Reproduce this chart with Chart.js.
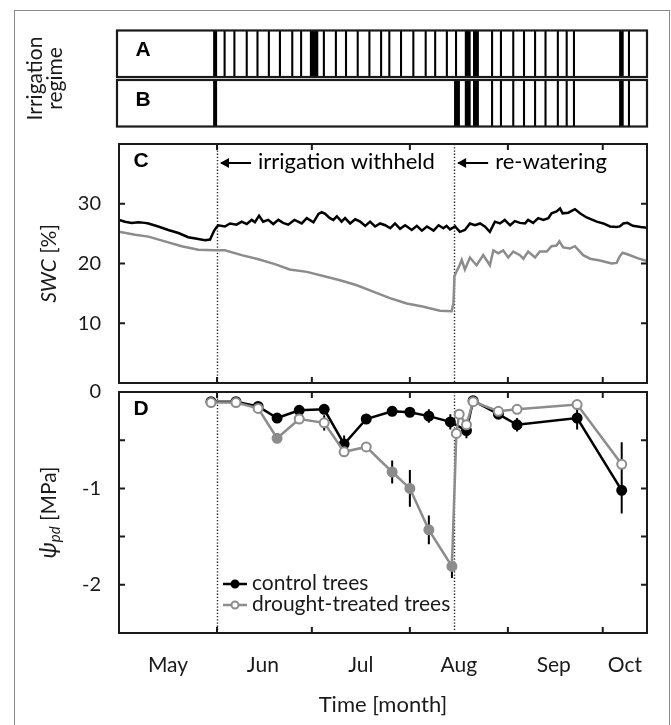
<!DOCTYPE html>
<html>
<head>
<meta charset="utf-8">
<script src="https://cdn.jsdelivr.net/npm/chart.js@4.4.1/dist/chart.umd.min.js"></script>
<style>
  html, body { margin: 0; padding: 0; background: #fff; }
  #fig { position: relative; width: 671px; height: 725px; overflow: hidden; background: #fff; }
  #frame { position: absolute; left: 14px; top: 10px; width: 656px; height: 740px; border: 1.5px solid #8a8a8a; box-sizing: border-box; }
  canvas { position: absolute; left: 0; }
</style>
</head>
<body>
<div id="fig">
  <div id="frame"></div>
  <canvas id="chartAB" width="671" height="136" style="top:0px"></canvas>
  <canvas id="chartC" width="671" height="265" style="top:130px"></canvas>
  <canvas id="chartD" width="671" height="349" style="top:376px"></canvas>
</div>
<script>
// x is counted in days from 1 May (0) to mid October
const monthNames = ['May', 'Jun', 'Jul', 'Aug', 'Sep', 'Oct'];
const monthCentres = [15.5, 45.5, 76.5, 107.5, 137.5, 160];
const monthStarts = [31, 61, 92, 123, 153];
const dayMax = 167;
const withheldDay = 31;
const rewaterDay = 106;

// irrigation events: single days or blocks [first, last]
const regimeLabels = ['A', 'B'];
const irrigationA = [[30.1, 30.7], 33.4, 36.5, 40.4, 43.8, 47.4, 50.9, 54.8, 57.6, [60.7, 62.7],
  64.8, 68.6, 71.8, 75.5, 79.2, 82.9, 85.5, 89.2, 93.1, 97, 100, 103.7, 106.6,
  [109.7, 110.9], [112.3, 113.5], 118, 120.8, 124.7, 128.1, 131.6, 134.9, 138.8,
  141.6, 143.9, [158.5, 159.3], 161.3];
const irrigationB = [[30.1, 30.7], [106.3, 107.5], [109.7, 110.9], [112.3, 113.5], 118, 120.8,
  124.7, 128.1, 131.6, 134.9, 138.8, 141.6, 143.9, [158.5, 159.3], 161.3];

// soil water content [%]
const swcTicks = [10, 20, 30];
const controlSwcDays = [0, 1.9, 4, 6.1, 8.2, 9.3, 12.4, 15.6, 18.8, 21.9, 25.1, 27.2, 28.8, 29.5, 30.1, 30.9,
  31.4, 33.5, 35.1, 37.2, 38.8, 40.4, 42, 43, 44.3, 45.6, 47.2, 48.8, 50.4, 51.9, 53.5, 55.5,
  57.8, 59.4, 61.5, 63.1, 64.1, 65.2, 66.7, 67.8, 68.9, 70.4, 71.5, 73.1, 74.7, 76.3, 77.9,
  79.4, 81, 82.6, 84.2, 85.8, 87.3, 88.9, 90.5, 92.6, 94.2, 95.8, 97.4, 99.5, 101.1, 102.6,
  103.6, 104.7, 106.3, 107.8, 109.4, 111, 112.6, 114.2, 115.7, 117.3, 118.9, 120.5, 122,
  123.7, 125.2, 126.8, 128.4, 129.4, 131, 132.6, 134.2, 135.8, 136.8, 138.4, 139.5, 140.3,
  142.1, 144.2, 145.8, 147.9, 151.1, 153.2, 155.3, 157.4, 158.4, 159.5, 160.8, 162.5, 165, 167];
const controlSwc = [27.3, 27.0, 26.8, 26.9, 26.8, 26.7, 26.2, 25.6, 25.1, 24.4, 24.1, 23.9, 24.0, 24.8, 25.5, 26.1,
  26.4, 26.2, 26.7, 26.5, 27.0, 26.6, 27.3, 26.9, 28.0, 27.0, 27.3, 26.6, 27.3, 26.8, 26.5, 27.3,
  26.7, 27.6, 26.9, 28.3, 28.6, 28.3, 27.6, 27.3, 27.9, 27.0, 27.6, 26.7, 27.4, 27.0, 26.3,
  27.0, 26.2, 26.7, 26.4, 25.9, 26.7, 25.8, 26.4, 25.6, 26.3, 25.5, 26.2, 25.5, 26.4, 25.9,
  26.3, 25.7, 26.2, 25.3, 25.6, 26.7, 26.4, 26.7, 26.2, 25.3, 27.0, 26.7, 27.3,
  26.4, 27.1, 26.8, 26.7, 27.3, 26.8, 27.6, 27.3, 27.6, 28.4, 28.7, 29.2, 28.4,
  28.5, 29.1, 28.4, 27.7, 27.0, 26.7, 26.2, 26.1, 26.2, 26.7, 26.8, 26.3, 26.1, 26.0];
const droughtSwcDays = [0, 5.1, 9.3, 14.5, 19.8, 25.1, 30.4, 33.5, 38.8, 44.1, 49.3, 54, 59.4, 64.6, 69.9,
  75, 80.4, 85.7, 91, 96, 101.5, 105.2, 105.8, 106.1, 106.8, 107.8, 108.4, 109.4, 111, 112.1,
  113.1, 115.2, 117.3, 118.4, 120, 121.5, 123.1, 124.7, 126.8, 127.9, 129.4, 131.6, 133.1,
  135.3, 136.8, 138.4, 139.3, 140.5, 142.6, 144.2, 146.8, 149, 152.1, 155.8, 157.4, 158.4,
  159.3, 161, 164, 167];
const droughtSwc = [25.3, 24.8, 24.5, 23.7, 22.9, 22.3, 22.2, 22.2, 21.4, 20.7, 19.9, 19.0, 18.6, 17.9, 17.2,
  16.4, 15.3, 14.2, 13.3, 12.8, 12.1, 12.0, 13.4, 17.9, 18.7, 19.8, 20.6, 19.0, 21.0, 20.3,
  19.7, 21.4, 19.7, 22.2, 21.7, 22.2, 21.0, 22.0, 21.4, 20.8, 22.0, 21.0, 22.0,
  22.0, 22.9, 23.0, 23.7, 22.7, 22.5, 22.9, 21.4, 20.8, 20.5, 20.0, 20.1, 21.2,
  21.8, 21.5, 20.9, 20.4];

// predawn water potential [MPa], mean and error
const psiTicks = [0, -0.5, -1, -1.5, -2];
const controlPsiDays = [29.1, 37, 44, 50, 57, 64.9, 71.2, 78.2, 86.4, 92, 98, 104.8, 109.9, 112, 120, 125.9, 144.9, 159];
const controlPsi = [-0.10, -0.10, -0.15, -0.27, -0.19, -0.18, -0.54, -0.28, -0.20, -0.21, -0.25, -0.31, -0.40, -0.09, -0.23, -0.34, -0.27, -1.02];
const controlPsiErr = [0.02, 0.02, 0.03, 0.05, 0.03, 0.03, 0.09, 0.04, 0.03, 0.03, 0.07, 0.08, 0.08, 0.03, 0.04, 0.07, 0.12, 0.24];
const droughtPsiDays = [29.1, 37, 44, 50, 57, 64.9, 71.2, 78.2, 86.4, 92, 98, 105.3, 106.7, 107.6, 109.9, 112, 120, 125.9, 144.9, 159];
const droughtPsi = [-0.11, -0.11, -0.17, -0.48, -0.28, -0.32, -0.62, -0.57, -0.83, -1.00, -1.43, -1.81, -0.43, -0.23, -0.34, -0.10, -0.20, -0.18, -0.13, -0.75];
const droughtPsiErr = [0.02, 0.02, 0.03, 0.04, 0.03, 0.08, 0.05, 0.04, 0.12, 0.19, 0.15, 0.12, 0.05, 0.04, 0.05, 0.02, 0.03, 0.03, 0.03, 0.23];
const droughtDiffers = [false, false, false, true, false, false, false, false, true, true, true, true, false, false, false, false, false, false, false, false];

const BLACK = '#000000';
const GREY = '#8c8c8c';
const AXIS = '#1a1a1a';
const FONT = 'Lato, "DejaVu Sans", sans-serif';
const AXIS_W = 119;      // left axis width, puts every plot area at x = 119
const RIGHT_PAD = 24;
const HALF_LINE = 0.33;  // half width of an irrigation stroke, days
const BOX_PCT = 0.94;

Chart.defaults.font.family = FONT;
Chart.defaults.color = AXIS;
Chart.defaults.animation = false;
Chart.defaults.plugins.legend.display = false;
Chart.defaults.plugins.tooltip.enabled = false;

const pts = (xs, ys) => xs.map((x, i) => ({ x: x, y: ys[i] }));
const fixWidth = s => { s.width = AXIS_W; };
// invisible tick marks only push the labels away from the axis
const spacerGrid = len => ({ display: true, drawOnChartArea: false, drawTicks: true, tickLength: len, tickColor: 'rgba(0,0,0,0)' });

// ---- shared drawing helpers ----
function drawBox(chart) {
    const { ctx, chartArea: a } = chart;
    ctx.save();
    ctx.lineWidth = 2;
    ctx.strokeStyle = AXIS;
    ctx.strokeRect(a.left, a.top, a.right - a.left, a.bottom - a.top);
    ctx.restore();
}

// tick marks pointing into the plot, on all four sides
function drawInnerTicks(chart, yScale) {
    const { ctx, chartArea: a, scales: { x } } = chart;
    const len = 6;
    ctx.save();
    ctx.lineWidth = 2;
    ctx.strokeStyle = AXIS;
    ctx.beginPath();
    monthStarts.forEach(d => {
        const px = x.getPixelForValue(d);
        ctx.moveTo(px, a.top); ctx.lineTo(px, a.top + len);
        ctx.moveTo(px, a.bottom); ctx.lineTo(px, a.bottom - len);
    });
    yScale.ticks.forEach(t => {
        if (t.value === yScale.min || t.value === yScale.max) return;
        const py = yScale.getPixelForValue(t.value);
        ctx.moveTo(a.left, py); ctx.lineTo(a.left + len, py);
        ctx.moveTo(a.right, py); ctx.lineTo(a.right - len, py);
    });
    ctx.stroke();
    ctx.restore();
}

function drawEventLines(chart) {
    const { ctx, chartArea: a, scales: { x } } = chart;
    ctx.save();
    ctx.lineWidth = 1.4;
    ctx.strokeStyle = '#222';
    ctx.setLineDash([1.3, 1.9]);
    [withheldDay, rewaterDay].forEach(d => {
        const px = Math.round(x.getPixelForValue(d)) + 0.5;
        ctx.beginPath();
        ctx.moveTo(px, a.top);
        ctx.lineTo(px, a.bottom);
        ctx.stroke();
    });
    ctx.restore();
}

function drawPanelLetter(chart, letter) {
    const { ctx, chartArea: a } = chart;
    ctx.save();
    ctx.font = 'bold 21px "Liberation Sans", Arial, sans-serif';
    ctx.fillStyle = BLACK;
    ctx.textAlign = 'center';
    ctx.textBaseline = 'middle';
    ctx.fillText(letter, a.left + 22, a.top + 17);
    ctx.restore();
}

// rotated axis title made of parts with their own font and offset
function drawRotatedTitle(chart, cx, parts) {
    const { ctx, chartArea: a } = chart;
    const cy = (a.top + a.bottom) / 2;
    ctx.save();
    ctx.translate(cx, cy);
    ctx.rotate(-Math.PI / 2);
    ctx.textBaseline = 'middle';
    ctx.textAlign = 'left';
    ctx.fillStyle = AXIS;
    let total = 0;
    parts.forEach(p => { ctx.font = p.font; total += ctx.measureText(p.text).width; });
    let pos = -total / 2;
    parts.forEach(p => {
        ctx.font = p.font;
        ctx.fillText(p.text, pos, p.dy || 0);
        pos += ctx.measureText(p.text).width;
    });
    ctx.restore();
}

// ---- panels A and B: irrigation regime ----
function irrigationSpan(ev) {
    const [s, e] = Array.isArray(ev) ? ev : [ev, ev];
    return [s - HALF_LINE, e + HALF_LINE];
}

const irrigationSets = [];
irrigationA.forEach(ev => irrigationSets.push({ data: [irrigationSpan(ev), null] }));
irrigationB.forEach(ev => irrigationSets.push({ data: [null, irrigationSpan(ev)] }));
irrigationSets.forEach(ds => {
    ds.backgroundColor = BLACK;
    ds.borderWidth = 0;
    ds.grouped = false;
    ds.barPercentage = 1;
    ds.categoryPercentage = BOX_PCT;
});

const regimeBoxes = {
    id: 'regimeBoxes',
    afterDatasetsDraw(chart) {
        const { ctx, chartArea: a, scales: { y } } = chart;
        const band = (y.getPixelForValue(1) - y.getPixelForValue(0)) * BOX_PCT;
        regimeLabels.forEach((lab, i) => {
            const top = y.getPixelForValue(i) - band / 2;
            ctx.save();
            ctx.lineWidth = 2.2;
            ctx.strokeStyle = AXIS;
            ctx.strokeRect(a.left - 2, top, a.right - a.left + 2, band);
            ctx.font = 'bold 21px "Liberation Sans", Arial, sans-serif';
            ctx.fillStyle = BLACK;
            ctx.textAlign = 'center';
            ctx.textBaseline = 'middle';
            ctx.fillText(lab, a.left + 24, top + 20);
            ctx.restore();
        });
    }
};

new Chart(document.getElementById('chartAB'), {
    type: 'bar',
    data: { labels: regimeLabels, datasets: irrigationSets },
    options: {
        responsive: false,
        devicePixelRatio: 1,
        indexAxis: 'y',
        layout: { padding: { top: 29, bottom: 8, left: 0, right: RIGHT_PAD } },
        scales: {
            x: { type: 'linear', min: 0, max: dayMax, display: false },
            y: {
                grid: { display: false },
                border: { display: false },
                ticks: { display: false },
                title: {
                    display: true,
                    text: ['Irrigation', 'regime'],
                    font: { size: 21, lineHeight: 0.95 },
                    padding: { top: 25, bottom: 0 }
                },
                afterFit: fixWidth
            }
        }
    },
    plugins: [regimeBoxes]
});

// ---- panel C: soil water content ----
function drawArrowNote(ctx, x0, y, text) {
    ctx.save();
    ctx.strokeStyle = BLACK;
    ctx.fillStyle = BLACK;
    ctx.lineWidth = 2;
    ctx.beginPath();
    ctx.moveTo(x0 + 4, y);
    ctx.lineTo(x0 + 34, y);
    ctx.stroke();
    ctx.beginPath();
    ctx.moveTo(x0 + 3, y);
    ctx.lineTo(x0 + 12, y - 5);
    ctx.lineTo(x0 + 12, y + 5);
    ctx.closePath();
    ctx.fill();
    ctx.font = '22px ' + FONT;
    ctx.textBaseline = 'middle';
    ctx.textAlign = 'left';
    ctx.fillText(text, x0 + 41, y - 1);
    ctx.restore();
}

const swcDecor = {
    id: 'swcDecor',
    beforeDatasetsDraw(chart) {
        drawEventLines(chart);
    },
    afterDraw(chart) {
        const { ctx, chartArea: a, scales: { x, y } } = chart;
        drawBox(chart);
        drawInnerTicks(chart, y);
        drawPanelLetter(chart, 'C');
        drawArrowNote(ctx, x.getPixelForValue(withheldDay), a.top + 19, 'irrigation withheld');
        drawArrowNote(ctx, x.getPixelForValue(rewaterDay), a.top + 19, 're-watering');
        drawRotatedTitle(chart, 49, [
            { text: 'SWC', font: 'italic 21px ' + FONT },
            { text: ' [%]', font: '21px ' + FONT }
        ]);
    }
};

new Chart(document.getElementById('chartC'), {
    type: 'line',
    data: {
        datasets: [
            { label: 'control', data: pts(controlSwcDays, controlSwc), borderColor: BLACK, borderWidth: 2.5, pointRadius: 0, order: 1 },
            { label: 'drought', data: pts(droughtSwcDays, droughtSwc), borderColor: GREY, borderWidth: 2.5, pointRadius: 0, order: 2 }
        ]
    },
    options: {
        responsive: false,
        devicePixelRatio: 1,
        layout: { padding: { top: 14, bottom: 12, left: 0, right: RIGHT_PAD } },
        scales: {
            x: { type: 'linear', min: 0, max: dayMax, display: false },
            y: {
                min: 0,
                max: 40,
                afterBuildTicks: s => { s.ticks = swcTicks.map(v => ({ value: v })); },
                grid: spacerGrid(18),
                border: { display: false },
                ticks: { padding: 0, font: { size: 20 } },
                afterFit: fixWidth
            }
        }
    },
    plugins: [swcDecor]
});

// ---- panel D: predawn water potential ----
const psiDecor = {
    id: 'psiDecor',
    beforeDatasetsDraw(chart) {
        const { ctx, scales: { x, y } } = chart;
        drawEventLines(chart);
        ctx.save();
        ctx.strokeStyle = BLACK;
        ctx.lineWidth = 2;
        ctx.beginPath();
        [[controlPsiDays, controlPsi, controlPsiErr], [droughtPsiDays, droughtPsi, droughtPsiErr]].forEach(([ds, vs, es]) => {
            ds.forEach((d, i) => {
                const px = x.getPixelForValue(d);
                ctx.moveTo(px, y.getPixelForValue(vs[i] + es[i]));
                ctx.lineTo(px, y.getPixelForValue(vs[i] - es[i]));
            });
        });
        ctx.stroke();
        ctx.restore();
    },
    afterDraw(chart) {
        const { ctx, chartArea: a } = chart;
        drawBox(chart);
        drawInnerTicks(chart, chart.scales.y);
        drawPanelLetter(chart, 'D');
        drawRotatedTitle(chart, 49, [
            { text: 'ψ', font: 'italic 23px ' + FONT },
            { text: 'pd', font: 'italic 15px ' + FONT, dy: 6 },
            { text: ' [MPa]', font: '21px ' + FONT }
        ]);
        // legend in the lower left corner
        const x0 = a.left + 104;
        chart.data.datasets.slice().sort((p, q) => p.legendRank - q.legendRank).forEach((ds, i) => {
            const yy = a.bottom - 49 + i * 21;
            ctx.save();
            ctx.strokeStyle = ds.borderColor;
            ctx.lineWidth = 2.5;
            ctx.beginPath();
            ctx.moveTo(x0, yy);
            ctx.lineTo(x0 + 24, yy);
            ctx.stroke();
            ctx.beginPath();
            ctx.arc(x0 + 12, yy, 3.5, 0, Math.PI * 2);
            ctx.fillStyle = ds.legendFill;
            ctx.fill();
            ctx.lineWidth = 2;
            ctx.stroke();
            ctx.fillStyle = AXIS;
            ctx.font = '21px ' + FONT;
            ctx.textBaseline = 'middle';
            ctx.fillText(ds.label, x0 + 29, yy - 1);
            ctx.restore();
        });
    }
};

new Chart(document.getElementById('chartD'), {
    type: 'line',
    data: {
        datasets: [
            {
                label: 'drought-treated trees',
                data: pts(droughtPsiDays, droughtPsi),
                borderColor: GREY,
                borderWidth: 2.5,
                pointRadius: 4.5,
                pointBorderWidth: 2,
                pointBorderColor: GREY,
                pointBackgroundColor: droughtDiffers.map(f => (f ? GREY : '#ffffff')),
                legendFill: '#ffffff',
                legendRank: 2,
                order: 0
            },
            {
                label: 'control trees',
                data: pts(controlPsiDays, controlPsi),
                borderColor: BLACK,
                borderWidth: 2.5,
                pointRadius: 4.5,
                pointBorderWidth: 2,
                pointBorderColor: BLACK,
                pointBackgroundColor: BLACK,
                legendFill: BLACK,
                legendRank: 1,
                order: 1
            }
        ]
    },
    options: {
        responsive: false,
        devicePixelRatio: 1,
        layout: { padding: { top: 16, bottom: 0, left: 0, right: RIGHT_PAD } },
        scales: {
            x: {
                type: 'linear',
                min: 0,
                max: dayMax,
                afterBuildTicks: s => { s.ticks = monthCentres.map(v => ({ value: v })); },
                grid: spacerGrid(20),
                border: { display: false },
                ticks: {
                    autoSkip: false,
                    maxRotation: 0,
                    padding: 0,
                    font: { size: 21 },
                    callback: (v, i) => monthNames[i]
                },
                title: {
                    display: true,
                    text: 'Time [month]',
                    font: { size: 22, lineHeight: 1.0 },
                    padding: { top: 0, bottom: 9 }
                },
                afterFit: s => { s.height = 92; }
            },
            y: {
                min: -2.5,
                max: 0,
                afterBuildTicks: s => { s.ticks = psiTicks.map(v => ({ value: v })); },
                grid: spacerGrid(18),
                border: { display: false },
                ticks: {
                    padding: 0,
                    font: { size: 20 },
                    callback: v => (Number.isInteger(v) ? String(v === 0 ? 0 : v) : '')
                },
                afterFit: fixWidth
            }
        }
    },
    plugins: [psiDecor]
});
</script>
</body>
</html>
